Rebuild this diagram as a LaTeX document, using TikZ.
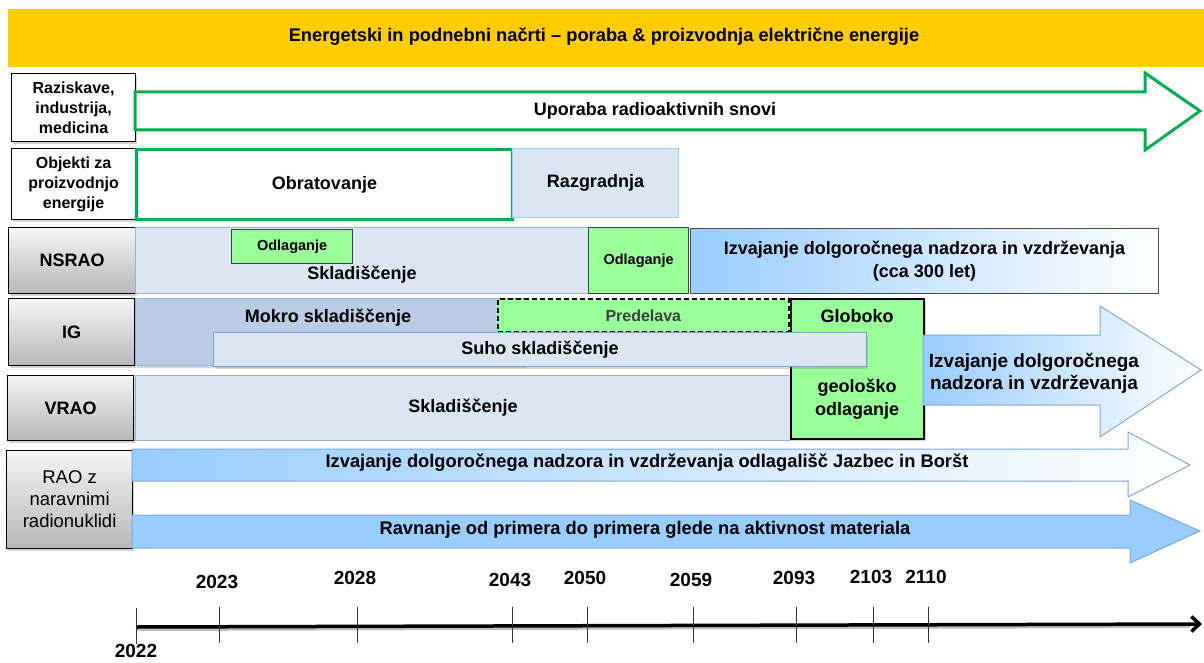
\documentclass[tikz,border=0pt]{standalone}
\usepackage{fontspec}
\setmainfont{Liberation Sans}
\usetikzlibrary{positioning,shadows,arrows.meta}

\definecolor{titleyellow}{HTML}{FFCC00}
\definecolor{usegreen}{HTML}{00B050}
\definecolor{dispgreen}{HTML}{99FF99}
\definecolor{storeblue}{HTML}{DCE6F2}
\definecolor{storeline}{HTML}{95B3D7}
\definecolor{wetblue}{HTML}{B9CDE5}
\definecolor{skyblue}{HTML}{99CCFF}
\definecolor{arrowline}{HTML}{7FA8DC}

\tikzset{
  lbl/.style={draw=black, line width=1.2pt, align=center, inner sep=0pt, anchor=north west,
    drop shadow={shadow xshift=1.5pt, shadow yshift=-2pt, opacity=.35}},
  whitelbl/.style={lbl, fill=white, font=\bfseries\fontsize{16}{20}\selectfont},
  greylbl/.style={lbl, top color=black!4, bottom color=black!28, font=\bfseries\fontsize{18}{22}\selectfont},
  bar/.style={anchor=north west, inner sep=0pt, align=center, font=\bfseries\fontsize{18}{23}\selectfont},
  store/.style={bar, fill=storeblue, draw=storeline, line width=1pt},
  dispo/.style={bar, fill=dispgreen, draw=black!75, line width=1.2pt},
  smalltxt/.style={font=\bfseries\fontsize{14.5}{17}\selectfont},
  bigtxt/.style={font=\bfseries\fontsize{18}{23}\selectfont, align=center},
  arrowtxt/.style={font=\bfseries\fontsize{18.3}{21}\selectfont, align=center},
  yearlbl/.style={font=\bfseries\fontsize{19}{21}\selectfont},
}

\begin{document}
\begin{tikzpicture}[x=1pt, y=-1pt]
\useasboundingbox (0,0) rectangle (1204,663);

% title
\node[bar, fill=titleyellow, minimum width=1196pt, minimum height=58pt] (title) at (8,9) {};
\node[arrowtxt] (titletxt) at (604,37) {Energetski in podnebni načrti – poraba \& proizvodnja električne energije};

% row labels
\node[whitelbl, minimum width=124pt, minimum height=68pt] (raz) at (11,73) {Raziskave,\\industrija,\\medicina};
\node[whitelbl, minimum width=124pt, minimum height=71pt] (obj) at (11,148) {Objekti za\\proizvodnjo\\energije};
\node[greylbl, minimum width=127pt, minimum height=66pt] (nsrao) at (8,227) {NSRAO};
\node[greylbl, minimum width=126pt, minimum height=67pt] (ig) at (8,298) {IG};
\node[greylbl, minimum width=126pt, minimum height=65pt] (vrao) at (7,375) {VRAO};
\node[greylbl, minimum width=126pt, minimum height=98pt, font=\fontsize{18.5}{22}\selectfont] (rao) at (6,450) {RAO z\\naravnimi\\radionuklidi};

% uporaba
\draw[usegreen, line width=3pt, fill=white] (135,92) -- (1145,92) -- (1145,73) -- (1200,111) -- (1145,150) -- (1145,130) -- (135,130) -- cycle;
\node[bigtxt] (upor) at (655,111) {Uporaba radioaktivnih snovi};

% objekti
\node[bar, draw=usegreen, line width=3pt, fill=white, minimum width=376pt, minimum height=70pt] (obrat) at (135,148) {Obratovanje};
\node[store, draw=skyblue, minimum width=166pt, minimum height=69pt] (razgr) at (512,148) {Razgradnja};

% NSRAO
\node[store, minimum width=453pt, minimum height=66pt] (nsbar) at (135,227) {};
\node[bigtxt] (nsskl) at (362,275) {Skladiščenje};
\node[dispo, smalltxt, minimum width=121pt, minimum height=34pt] (odl1) at (231,229) {Odlaganje};
\node[dispo, smalltxt, minimum width=100pt, minimum height=66pt] (odl2) at (588,227) {Odlaganje};
\node[bar, left color=skyblue, right color=white, draw=black!70, line width=1pt, minimum width=468pt, minimum height=65pt] (nsnadz) at (690,228)
  {Izvajanje dolgoročnega nadzora in vzdrževanja\\(cca 300 let)};

% IG
\node[bar, fill=wetblue, draw=storeline, line width=1pt, minimum width=390pt, minimum height=67pt,
  drop shadow={shadow xshift=1pt, shadow yshift=-2pt, opacity=.3}] (mokro) at (135,298) {};
\node[bigtxt] (mokrotxt) at (328,318) {Mokro skladiščenje};
\node[dispo, draw=black, line width=1.6pt, dash pattern=on 5pt off 3pt, text=black!75, font=\bfseries\fontsize{16}{19}\selectfont,
  minimum width=291pt, minimum height=33pt] (pred) at (497,298) {Predelava};

% VRAO
\node[store, minimum width=655pt, minimum height=65pt] (vrbar) at (135,375) {Skladiščenje};

% globoko
\node[dispo, draw=black, line width=2.2pt, minimum width=133pt, minimum height=140pt,
  drop shadow={shadow xshift=2pt, shadow yshift=-2pt, opacity=.35}] (glob) at (790,298) {};
\node[bigtxt] (globtxt) at (857,316) {Globoko};
\node[bigtxt, text depth=0pt] (geotxt) at (857,397) {geološko\\odlaganje};
\node[store, draw=skyblue!80!black, minimum width=653pt, minimum height=34pt,
  drop shadow={shadow xshift=1pt, shadow yshift=-2pt, opacity=.3}] (suho) at (213,332) {Suho skladiščenje};

% arrow after disposal
\draw[arrowline, line width=1pt, left color=skyblue, right color=white] (923,335) -- (1100,335) -- (1100,306) -- (1201,370) -- (1100,437) -- (1100,405) -- (923,405) -- cycle;
\node[arrowtxt, font=\bfseries\fontsize{19}{22}\selectfont] (ignadz) at (1034,373) {Izvajanje dolgoročnega\\nadzora in vzdrževanja};

% RAO z naravnimi radionuklidi
\draw[arrowline, line width=1pt, left color=skyblue, right color=white] (132,449) -- (1128,449) -- (1128,432) -- (1190,465) -- (1128,497) -- (1128,481) -- (132,481) -- cycle;
\node[arrowtxt] (jazb) at (647,463) {Izvajanje dolgoročnega nadzora in vzdrževanja odlagališč Jazbec in Boršt};
\draw[arrowline, line width=1pt, fill=skyblue] (132,515) -- (1130,515) -- (1130,500) -- (1200,531) -- (1130,563) -- (1130,548) -- (132,548) -- cycle;
\node[arrowtxt] (ravn) at (645,530) {Ravnanje od primera do primera glede na aktivnost materiala};

% timeline
\coordinate (tl0) at (136,627);
\coordinate (tlend) at (1202,624);
\draw[black!25, line width=3pt] (137,629.5) -- (1190,626.5);
\draw[line width=3.5pt, -{Straight Barb[length=8pt,width=15pt]}] (tl0) -- (tlend);
\draw[black!80, line width=1pt] (136,608) -- (136,644);
\node[yearlbl] (y2022) at (136,651) {2022};
\foreach \xx/\yr/\ly in {219/2023/582, 357/2028/578, 512/2043/580, 587/2050/578, 693/2059/580, 796/2093/578, 873/2103/577, 928/2110/577}{
  \draw[black!80, line width=1pt] (\xx,607) -- (\xx,643);
  \node[yearlbl] (y\yr) at (\xx-2,\ly) {\yr};
}
\end{tikzpicture}
\end{document}
